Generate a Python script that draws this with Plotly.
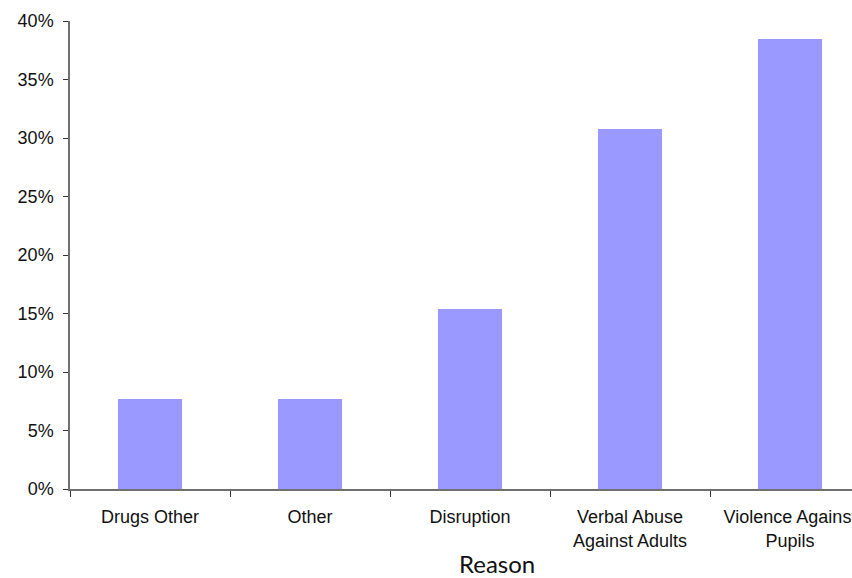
import plotly.graph_objects as go

reasons = ["Drugs Other", "Other", "Disruption", "Verbal Abuse<br>Against Adults", "Violence Against<br>Pupils"]
shares = [1 / 13, 1 / 13, 2 / 13, 4 / 13, 5 / 13]
y_ticks = [0, 0.05, 0.10, 0.15, 0.20, 0.25, 0.30, 0.35, 0.40]
y_tick_text = ["0%", "5%", "10%", "15%", "20%", "25%", "30%", "35%", "40%"]
x_title = "Reason"

fig = go.Figure(
    go.Bar(
        x=reasons,
        y=shares,
        marker=dict(color="#9999FF", line=dict(width=0)),
        width=0.4,
    )
)

axis_color = "#707070"

fig.update_layout(
    width=852,
    height=578,
    margin=dict(l=70, r=0, t=21, b=89, autoexpand=False),
    paper_bgcolor="white",
    plot_bgcolor="white",
    showlegend=False,
    font=dict(family="Liberation Sans, Arial, sans-serif", size=18, color="#111111"),
    xaxis=dict(
        type="category",
        range=[-0.5, 4.3875],
        showline=True,
        linecolor=axis_color,
        linewidth=1.5,
        ticks="outside",
        tickson="boundaries",
        ticklen=6,
        tickcolor="#333333",
        showgrid=False,
        zeroline=False,
        ticklabelstandoff=11,
        automargin=False,
    ),
    yaxis=dict(
        range=[0, 0.40],
        tickvals=y_ticks,
        ticktext=y_tick_text,
        showline=True,
        linecolor=axis_color,
        linewidth=1.5,
        ticks="outside",
        ticklen=5,
        tickcolor="#333333",
        showgrid=False,
        zeroline=False,
        ticklabelstandoff=6,
        automargin=False,
    ),
    bargap=0.6,
    annotations=[
        dict(
            text=x_title,
            xref="paper",
            yref="paper",
            x=0.546,
            y=-0.159,
            xanchor="center",
            yanchor="middle",
            borderpad=0,
            showarrow=False,
            font=dict(family="Lato, sans-serif", size=24, color="#111111"),
        )
    ],
)

fig.write_html("out.html")
